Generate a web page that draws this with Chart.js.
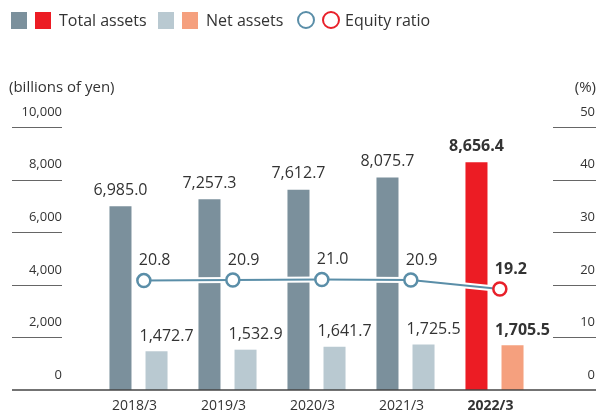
<!DOCTYPE html>
<html>
<head>
<meta charset="utf-8">
<script src="https://cdn.jsdelivr.net/npm/chart.js@4.4.0/dist/chart.umd.min.js"></script>
<style>
  html, body { margin: 0; padding: 0; background: #fff; }
  #wrap { position: relative; width: 598px; height: 412px; font-family: "Open Sans", sans-serif; color: #333; }
  #wrap canvas { position: absolute; left: 0; top: 0; }
  .sw { position: absolute; top: 12px; width: 16px; height: 17px; }
  .ring { position: absolute; top: 11px; width: 14px; height: 14px; border: 2.5px solid; border-radius: 50%; }
  .txt { position: absolute; font-size: 16px; line-height: 20px; white-space: nowrap; }
  .unit { position: absolute; top: 76px; font-size: 15px; line-height: 20px; white-space: nowrap; }
</style>
</head>
<body>
<div id="wrap">
  <canvas id="chart" width="598" height="412"></canvas>
  <div class="sw" style="left:11px;background:#7b909c"></div>
  <div class="sw" style="left:35px;background:#ec1c24"></div>
  <div class="txt" style="left:59px;top:10px">Total assets</div>
  <div class="sw" style="left:158px;background:#b9c9d1"></div>
  <div class="sw" style="left:182px;background:#f5a07e"></div>
  <div class="txt" style="left:206px;top:10px">Net assets</div>
  <div class="ring" style="left:297px;border-color:#5a8ea8"></div>
  <div class="ring" style="left:322px;border-color:#e8202a"></div>
  <div class="txt" style="left:345px;top:10px">Equity ratio</div>
  <div class="unit" style="left:9px">(billions of yen)</div>
  <div class="unit" style="right:2px">(%)</div>
</div>
<script>
const categories = ['2018/3', '2019/3', '2020/3', '2021/3', '2022/3'];
const totalAssets = [6985.0, 7257.3, 7612.7, 8075.7, 8656.4];
const netAssets = [1472.7, 1532.9, 1641.7, 1725.5, 1705.5];
const equityRatio = [20.8, 20.9, 21.0, 20.9, 19.2];

const FONT = '"Open Sans", sans-serif';
const last = categories.length - 1;
const lineShift = 0.06; // equity points sit a little right of the category centre (fraction of a category)

const darkCol = '#7b909c', lightCol = '#b9c9d1';
const redCol = '#ec1c24', salmonCol = '#f5a07e';
const lineCol = '#5a8ea8', ringRed = '#e8202a';

const fmt1 = v => v.toLocaleString('en-US', { minimumFractionDigits: 1, maximumFractionDigits: 1 });

const extras = {
  id: 'extras',
  afterDatasetsUpdate(chart) {
    // nudge the ratio line a little to the right of the category centre
    const x = chart.scales.x;
    const dx = (x.getPixelForValue(1) - x.getPixelForValue(0)) * lineShift;
    [2, 3].forEach(d => chart.getDatasetMeta(d).data.forEach(p => { p.x += dx; }));
  },
  afterDatasetsDraw(chart) {
    const ctx = chart.ctx;
    const y = chart.scales.y, y2 = chart.scales.y2;
    ctx.save();
    // short rules under the tick labels
    ctx.strokeStyle = '#666';
    ctx.lineWidth = 1;
    y.ticks.forEach(t => {
      if (t.value === 0) return;
      const py = Math.round(y.getPixelForValue(t.value)) + 0.5;
      ctx.beginPath(); ctx.moveTo(12, py); ctx.lineTo(62, py); ctx.stroke();
    });
    y2.ticks.forEach(t => {
      if (t.value === 0) return;
      const py = Math.round(y2.getPixelForValue(t.value)) + 0.5;
      ctx.beginPath(); ctx.moveTo(553, py); ctx.lineTo(596, py); ctx.stroke();
    });
    // baseline
    const by = y.getPixelForValue(0);
    ctx.strokeStyle = '#444';
    ctx.lineWidth = 1.5;
    ctx.beginPath(); ctx.moveTo(12, by); ctx.lineTo(596, by); ctx.stroke();

    ctx.fillStyle = '#333';
    ctx.textBaseline = 'middle';
    // left tick labels, sitting above their rules
    ctx.font = '13px ' + FONT;
    ctx.textAlign = 'right';
    y.ticks.forEach(t => {
      const lbl = t.label != null ? t.label : t.value.toLocaleString('en-US');
      ctx.fillText(lbl, 62, y.getPixelForValue(t.value) - 15);
    });

    // value labels
    const setFont = (i, size) => { ctx.font = (i === last ? 'bold ' : '') + size + 'px ' + FONT; };
    chart.getDatasetMeta(0).data.forEach((bar, i) => {
      setFont(i, 16);
      ctx.textAlign = 'center';
      ctx.fillText(fmt1(totalAssets[i]), bar.x, bar.y - 16);
    });
    chart.getDatasetMeta(1).data.forEach((bar, i) => {
      setFont(i, 16);
      ctx.textAlign = 'center';
      ctx.fillText(fmt1(netAssets[i]), bar.x + 10, bar.y - 15);
    });
    chart.getDatasetMeta(3).data.forEach((pt, i) => {
      setFont(i, 16);
      ctx.textAlign = 'left';
      ctx.fillText(equityRatio[i].toFixed(1), pt.x - 5, pt.y - 20);
    });
    ctx.restore();
  }
};

new Chart(document.getElementById('chart'), {
  data: {
    labels: categories,
    datasets: [
      {
        type: 'bar',
        label: 'Total assets',
        data: totalAssets,
        backgroundColor: categories.map((c, i) => i === last ? redCol : darkCol),
        categoryPercentage: 0.81,
        barPercentage: 0.611,
        order: 3
      },
      {
        type: 'bar',
        label: 'Net assets',
        data: netAssets,
        backgroundColor: categories.map((c, i) => i === last ? salmonCol : lightCol),
        categoryPercentage: 0.81,
        barPercentage: 0.611,
        order: 3
      },
      {
        type: 'line',
        label: 'halo',
        data: equityRatio,
        yAxisID: 'y2',
        borderColor: '#fff',
        borderWidth: 6,
        pointRadius: 0,
        order: 2
      },
      {
        type: 'line',
        label: 'Equity ratio',
        data: equityRatio,
        yAxisID: 'y2',
        borderColor: lineCol,
        borderWidth: 2,
        pointRadius: 6.5,
        pointBorderWidth: 2.5,
        pointBackgroundColor: '#fff',
        pointBorderColor: categories.map((c, i) => i === last ? ringRed : lineCol),
        order: 1
      }
    ]
  },
  options: {
    responsive: false,
    devicePixelRatio: 1,
    animation: false,
    layout: { padding: { left: 12, right: 3, top: 127, bottom: 0 } },
    plugins: { legend: { display: false }, tooltip: { enabled: false } },
    scales: {
      x: {
        type: 'category',
        offset: true,
        grid: { display: false, drawTicks: false },
        border: { display: false },
        ticks: {
          padding: 8,
          labelOffset: -4,
          color: '#333',
          font: ctx => ({ family: FONT, size: 14, weight: ctx.index === last ? 'bold' : 'normal' })
        },
        afterFit: s => { s.height = 22; }
      },
      y: {
        position: 'left',
        min: 0,
        max: 10000,
        grid: { display: false, drawTicks: false },
        border: { display: false },
        ticks: {
          display: false,
          stepSize: 2000,
          callback: v => v.toLocaleString('en-US')
        },
        afterFit: s => { s.width = 82; }
      },
      y2: {
        position: 'right',
        min: 0,
        max: 50,
        grid: { display: false, drawTicks: false },
        border: { display: false },
        ticks: {
          stepSize: 10,
          padding: 0,
          crossAlign: 'far',
          labelOffset: -15,
          color: '#333',
          font: { family: FONT, size: 13 }
        },
        afterFit: s => { s.width = 56; }
      }
    }
  },
  plugins: [extras]
});
</script>
</body>
</html>
